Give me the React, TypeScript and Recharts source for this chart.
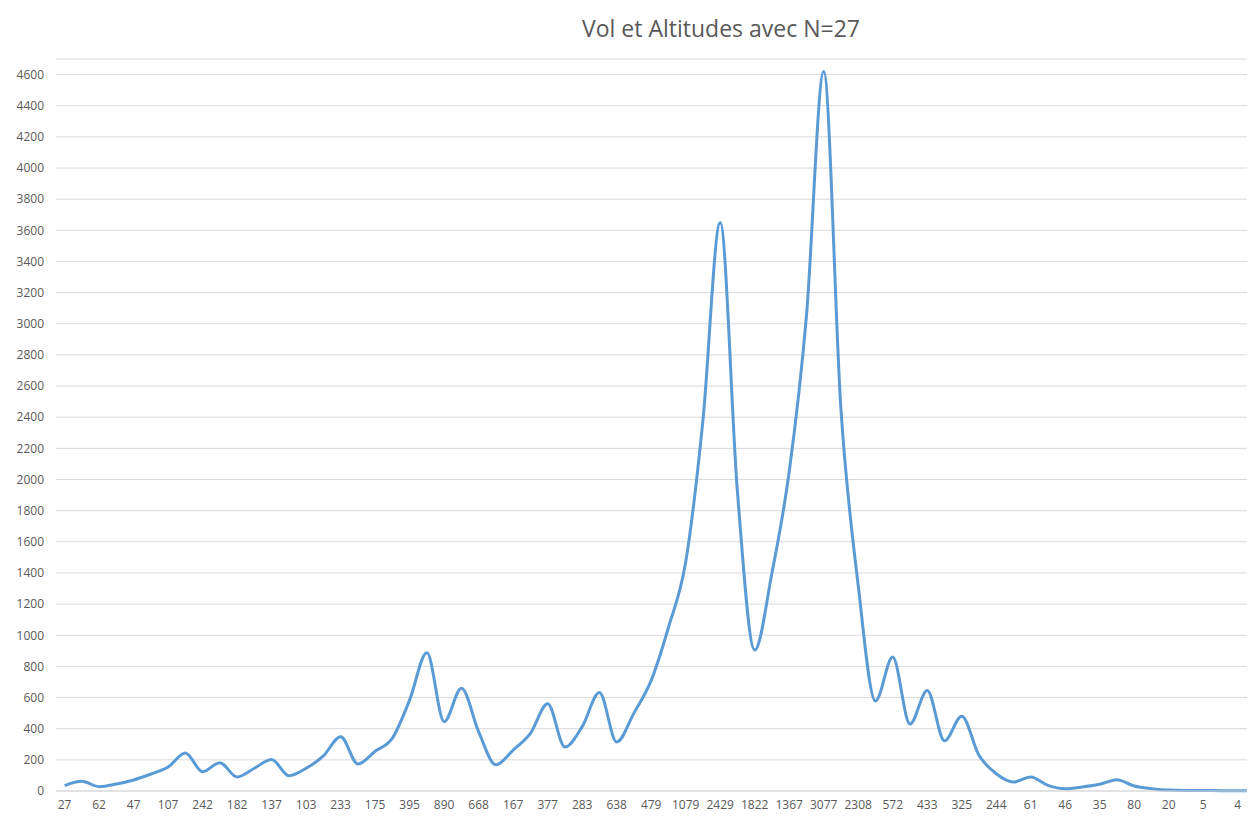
import React from "react";
import { CartesianGrid, Line, LineChart, XAxis, YAxis } from "recharts";

/* ---------- data ---------- */
// labels shown on every other category (index 0, 2, 4, ...)
const CATEGORY_LABELS = [
  "27", "62", "47", "107", "242", "182", "137", "103", "233", "175",
  "395", "890", "668", "167", "377", "283", "638", "479", "1079", "2429",
  "1822", "1367", "3077", "2308", "572", "433", "325", "244", "61", "46",
  "35", "80", "20", "5", "4",
];

const VOL_VALUES = [
  35, 62, 28, 45, 71, 109, 154, 244, 124, 182,
  90, 146, 203, 98, 146, 225, 349, 173, 255, 340,
  585, 888, 445, 660, 380, 168, 263, 370, 560, 282,
  413, 632, 315, 500, 710, 1050, 1470, 2380, 3650, 1920,
  905, 1400, 2050, 3050, 4620, 2450, 1320, 578, 860, 430,
  645, 322, 480, 229, 111, 58, 90, 36, 15, 26,
  43, 73, 32, 15, 6, 4, 4, 2, 2, 1,
];

const Y_TICKS = [
  0, 200, 400, 600, 800, 1000, 1200, 1400, 1600, 1800, 2000, 2200,
  2400, 2600, 2800, 3000, 3200, 3400, 3600, 3800, 4000, 4200, 4400, 4600,
];

const X_TICKS = CATEGORY_LABELS.map((_, k) => k * 2);

const chartData = VOL_VALUES.map((v, i) => ({ i, vol: v }));

const axisTick = { fill: "#595959", fontSize: 12, fontFamily: "Open Sans" };

export default function App() {
  return (
    <div style={{ position: "relative", width: 1247, height: 808 }}>
      <div
        style={{
          position: "absolute",
          left: 713,
          top: 5,
          transform: "translateX(-50%)",
          fontFamily: "Open Sans",
          fontSize: 23,
          color: "#595959",
          whiteSpace: "nowrap",
          lineHeight: "30px",
        }}
      >
        Vol et Altitudes avec N=27
      </div>
      <LineChart
        width={1247}
        height={808}
        data={chartData}
        margin={{ top: 51, right: 0, bottom: 0, left: 0 }}
      >
        <CartesianGrid stroke="#D9D9D9" vertical={false} />
        <XAxis
          dataKey="i"
          type="number"
          domain={[-0.5, 69]}
          ticks={X_TICKS}
          interval={0}
          tickFormatter={(v) => CATEGORY_LABELS[v / 2] ?? ""}
          tick={axisTick}
          tickLine={false}
          axisLine={{ stroke: "#D9D9D9" }}
          tickMargin={3}
          height={25}
          allowDataOverflow
        />
        <YAxis
          domain={[0, 4700]}
          ticks={Y_TICKS}
          interval={0}
          tick={axisTick}
          tickLine={false}
          axisLine={false}
          tickMargin={6}
          width={48}
        />
        <Line
          type="monotone"
          dataKey="vol"
          stroke="#5B9BD5"
          strokeWidth={3}
          dot={false}
          isAnimationActive={false}
        />
      </LineChart>
    </div>
  );
}
